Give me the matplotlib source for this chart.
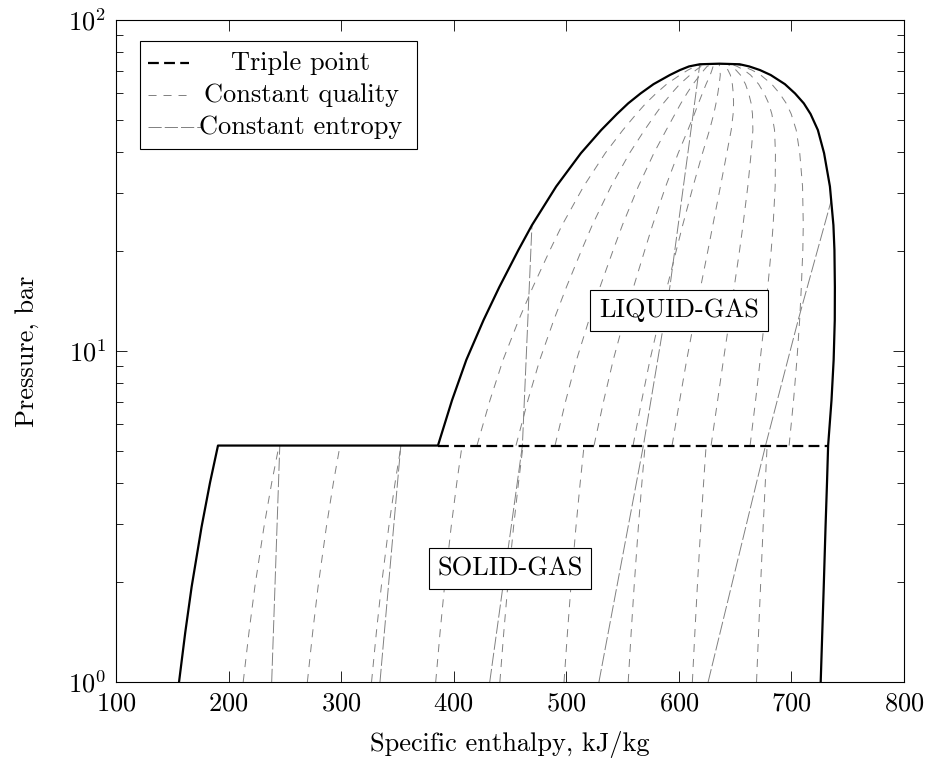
import numpy as np
import matplotlib
matplotlib.use("Agg")
import matplotlib.pyplot as plt
from matplotlib.lines import Line2D
from matplotlib.patches import Rectangle
from matplotlib.ticker import LogLocator, FixedLocator

plt.rcParams['font.family'] = ['cmr10', 'DejaVu Serif']
plt.rcParams['mathtext.fontset'] = 'cm'
plt.rcParams['axes.formatter.use_mathtext'] = True
plt.rcParams['lines.scale_dashes'] = False

# ---------------- data ----------------
# liquid-gas saturation: pressure (bar), enthalpy (kJ/kg)
lg_pressure = [5.18, 7.1, 9.4, 12.4, 15.6, 20.2, 24.0, 31.4, 39.6, 46.5, 52.0, 56.0, 60.0,
               64.0, 68.2, 70.6, 72.4, 73.5, 73.8]
lg_h_liquid = [386, 398.5, 411.2, 426.5, 440.5, 457.5, 469.5, 491, 513, 531, 545, 555, 566,
               577.5, 592, 601, 609, 618.6, 636]
lg_h_vapor = [732.6, 735.6, 737.5, 738.5, 738.6, 738.2, 737.3, 734.2, 729, 723.5, 717, 711,
              703.2, 694.2, 681.6, 672, 662.5, 654, 636]

# solid-gas saturation
sg_pressure = [1.0, 1.41, 1.94, 2.94, 4.0, 5.18]
sg_h_solid = [156, 161.5, 167.2, 176, 183.5, 190.6]
sg_h_vapor = [726, 727.4, 728.7, 730.3, 731.6, 732.6]

# constant quality levels
qualities = [0.1, 0.2, 0.3, 0.4, 0.5, 0.6, 0.7, 0.8, 0.9]

# constant entropy lines: (enthalpy list, pressure list)
entropy_1_h = [238.3, 245.5]
entropy_1_p = [1.0, 5.18]
entropy_2_h = [334.5, 353]
entropy_2_p = [1.0, 5.18]
entropy_3_h = [432, 461, 469.5]
entropy_3_p = [1.0, 5.18, 24.0]
entropy_4_h = [529, 568.5, 592, 608, 618.6]
entropy_4_p = [1.0, 5.18, 15.6, 39.6, 73.5]
entropy_5_h = [626, 677, 706, 735.5]
entropy_5_p = [1.0, 5.18, 12.4, 28.6]

x_ticks = [100, 200, 300, 400, 500, 600, 700, 800]

FS = 19

# ---------------- figure ----------------
fig = plt.figure(figsize=(9.29, 7.59), dpi=100)
ax = fig.add_axes([116/929, 1-682/759, 788/929, 662/759])
ax.set_yscale('log')
ax.set_xlim(100, 800)
ax.set_ylim(1, 100)

grey = '#808080'
q_dash = (0, (5.8, 5.0))
s_dash = (0, (9.5, 2.2))
t_dash = (0, (7.8, 3.8))

lgP = np.array(lg_pressure)
hl = np.array(lg_h_liquid)
hv = np.array(lg_h_vapor)
sgP = np.array(sg_pressure)
hs = np.array(sg_h_solid)
hsv = np.array(sg_h_vapor)

# constant quality lines
for q in qualities:
    ax.plot(hl + q * (hv - hl), lgP, color=grey, lw=0.7, linestyle=q_dash, zorder=2)
    ax.plot(hs + q * (hsv - hs), sgP, color=grey, lw=0.7, linestyle=q_dash, zorder=2)

# constant entropy lines
for eh, ep in [(entropy_1_h, entropy_1_p), (entropy_2_h, entropy_2_p),
               (entropy_3_h, entropy_3_p), (entropy_4_h, entropy_4_p),
               (entropy_5_h, entropy_5_p)]:
    ax.plot(eh, ep, color=grey, lw=0.7, linestyle=s_dash, zorder=2)

# boundary
bh = list(sg_h_solid) + list(lg_h_liquid) + list(lg_h_vapor[::-1][1:]) + list(sg_h_vapor[::-1][1:])
bp = list(sg_pressure) + list(lg_pressure) + list(lg_pressure[::-1][1:]) + list(sg_pressure[::-1][1:])
ax.plot(bh, bp, color='black', lw=1.6, zorder=4, solid_joinstyle='round')

# triple line
ax.plot([lg_h_liquid[0], lg_h_vapor[0]], [lg_pressure[0], lg_pressure[0]],
        color='black', lw=1.6, linestyle=t_dash, zorder=4)

# region labels
bbox = dict(boxstyle='square,pad=0.33', facecolor='white', edgecolor='black', linewidth=0.8)
ax.text(600, 13.25, 'LIQUID-GAS', ha='center', va='center', fontsize=FS, bbox=bbox, zorder=5)
ax.text(450, 2.2, 'SOLID-GAS', ha='center', va='center', fontsize=FS, bbox=bbox, zorder=5)

# ticks
ax.xaxis.set_major_locator(FixedLocator(x_ticks))
ax.yaxis.set_major_locator(LogLocator(base=10, numticks=10))
ax.yaxis.set_minor_locator(LogLocator(base=10, subs=np.arange(2, 10), numticks=10))
ax.tick_params(which='both', direction='in', top=True, right=True, labelsize=FS, width=0.6)
ax.tick_params(which='major', length=8, pad=7)
ax.tick_params(which='minor', length=5)
ax.tick_params(axis='x', which='minor', bottom=False, top=False)
for s in ax.spines.values():
    s.set_linewidth(0.8)

ax.set_xlabel('Specific enthalpy, kJ/kg', fontsize=FS, labelpad=11)
ax.set_ylabel('Pressure, bar', fontsize=FS, labelpad=21)

# legend (drawn manually for centred text)
lx0, lx1 = (140-116)/788, (417-116)/788
ly0, ly1 = (682-149)/662, (682-41)/662
ax.add_patch(Rectangle((lx0, ly0), lx1-lx0, ly1-ly0, transform=ax.transAxes,
                       facecolor='white', edgecolor='black', lw=0.8, zorder=6))
entries = [('Triple point', 'black', 1.6, t_dash, 189),
           ('Constant quality', grey, 0.7, q_dash, 189),
           ('Constant entropy', grey, 0.7, s_dash, 201)]
ys_px = [62.7, 95, 127]
sx0 = (148-116)/788
tx = (301-116)/788
for (lab, col, lw, ls, xend), ypx in zip(entries, ys_px):
    yy = (682-ypx)/662
    ax.add_line(Line2D([sx0, (xend-116)/788], [yy, yy], transform=ax.transAxes, color=col,
                       lw=lw, linestyle=ls, zorder=7))
    ax.text(tx, yy, lab, transform=ax.transAxes, ha='center', va='center',
            fontsize=FS, zorder=7)

fig.savefig('out.png', dpi=100)
